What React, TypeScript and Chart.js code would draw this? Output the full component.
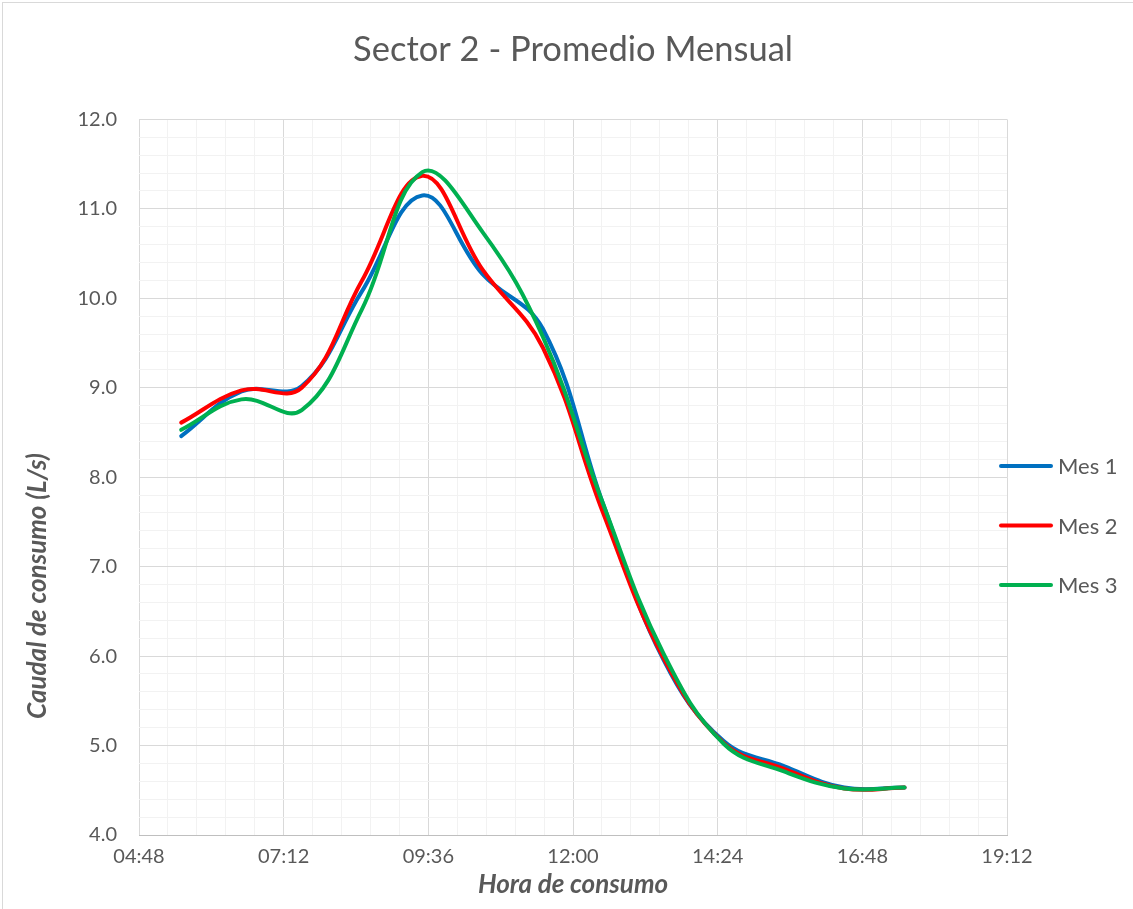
import React, { useEffect, useRef } from 'react';
import { Chart, registerables } from 'chart.js';

Chart.register(...registerables);

// Hourly sample times
const horas = ['05:30', '06:30', '07:30', '08:30', '09:30', '10:30', '11:30', '12:30', '13:30', '14:30', '15:30', '16:30', '17:30'];

// Caudal de consumo (L/s)
const mes1 = [8.46, 8.96, 9.02, 10.08, 11.15, 10.27, 9.66, 7.70, 5.96, 5.05, 4.77, 4.53, 4.53];
const mes2 = [8.61, 8.97, 9.00, 10.20, 11.37, 10.32, 9.45, 7.60, 5.98, 5.03, 4.74, 4.52, 4.53];
const mes3 = [8.53, 8.87, 8.75, 9.88, 11.41, 10.74, 9.57, 7.70, 6.03, 5.02, 4.71, 4.52, 4.53];

const seriesNames = ['Mes 1', 'Mes 2', 'Mes 3'];
const seriesColors = ['#0070C0', '#FF0000', '#00B050'];

// Axis settings (x in minutes from midnight)
const xMin = 288; // 04:48
const xMax = 1152; // 19:12
const xMinorStep = 28.8;
const xMajorStep = 144;
const yMin = 4;
const yMax = 12;
const yMinorStep = 0.2;

const TEXT = '#595959';
const MAJOR = '#d9d9d9';
const MINOR = '#f2f2f2';
const FONT = 'Lato, "Open Sans", sans-serif';

const toMinutes = (s: string) => {
  const [h, m] = s.split(':').map(Number);
  return h * 60 + m;
};
const fmtTime = (v: number) => {
  const t = Math.round(v);
  return String(Math.floor(t / 60)).padStart(2, '0') + ':' + String(t % 60).padStart(2, '0');
};
const isMajorX = (v: number) => {
  const k = (v - xMin) / xMajorStep;
  return Math.abs(k - Math.round(k)) < 1e-6;
};
const isMajorY = (v: number) => Math.abs(v - Math.round(v)) < 1e-6;

const sideLegend = {
  id: 'sideLegend',
  afterDraw(chart: any) {
    const ctx = chart.ctx;
    ctx.save();
    chart.data.datasets.forEach((ds: any, i: number) => {
      const y = 466 + i * 59.5;
      ctx.strokeStyle = ds.borderColor;
      ctx.lineWidth = 4;
      ctx.lineCap = 'round';
      ctx.beginPath();
      ctx.moveTo(1001, y);
      ctx.lineTo(1051, y);
      ctx.stroke();
      ctx.fillStyle = TEXT;
      ctx.font = `22px ${FONT}`;
      ctx.textAlign = 'left';
      ctx.textBaseline = 'middle';
      ctx.fillText(ds.label, 1058, y + 1);
    });
    ctx.restore();
  },
};

const yTitle = {
  id: 'yTitle',
  afterDraw(chart: any) {
    const ctx = chart.ctx;
    ctx.save();
    ctx.translate(38, 586);
    ctx.rotate(-Math.PI / 2);
    ctx.fillStyle = TEXT;
    ctx.font = `italic bold 26px ${FONT}`;
    ctx.textAlign = 'center';
    ctx.textBaseline = 'middle';
    ctx.fillText('Caudal de consumo (L/s)', 0, 0);
    ctx.restore();
  },
};

export default function App() {
  const ref = useRef<HTMLCanvasElement | null>(null);

  useEffect(() => {
    let chart: Chart | null = null;
    let cancelled = false;
    const make = () => {
      if (cancelled || !ref.current) return;
      const xs = horas.map(toMinutes);
      const series = [mes1, mes2, mes3];
      chart = new Chart(ref.current, {
        type: 'line',
        data: {
          datasets: series.map((vals, i) => ({
            label: seriesNames[i],
            data: vals.map((y, j) => ({ x: xs[j], y })),
            borderColor: seriesColors[i],
            backgroundColor: seriesColors[i],
            borderWidth: 4,
            borderCapStyle: 'round',
            borderJoinStyle: 'round',
            pointRadius: 0,
            tension: 0.4,
            fill: false,
            order: 2 - i,
          })),
        },
        options: {
          responsive: false,
          animation: false,
          devicePixelRatio: 1,
          layout: { padding: { left: 0, right: 126, top: 0, bottom: 0 } },
          plugins: {
            legend: { display: false },
            tooltip: { enabled: false },
            title: {
              display: true,
              text: 'Sector 2 - Promedio Mensual',
              color: TEXT,
              fullSize: false,
              font: { family: FONT, size: 34.5, weight: 'normal' },
              padding: { top: 29, bottom: 49 },
            },
          },
          scales: {
            x: {
              type: 'linear',
              min: xMin,
              max: xMax,
              ticks: {
                stepSize: xMinorStep,
                autoSkip: false,
                maxRotation: 0,
                minRotation: 0,
                padding: 10,
                color: TEXT,
                font: { family: FONT, size: 20 },
                callback: (v: any) => (isMajorX(Number(v)) ? fmtTime(Number(v)) : ''),
              },
              grid: {
                drawTicks: false,
                color: (c: any) => (c.tick && isMajorX(c.tick.value) ? MAJOR : MINOR),
              },
              border: { color: '#bfbfbf' },
              title: {
                display: true,
                text: 'Hora de consumo',
                color: TEXT,
                font: { family: FONT, size: 26, weight: 'bold', style: 'italic' },
                padding: { top: 0, bottom: 9 },
              },
              afterFit: (s: any) => {
                s.height = 74;
              },
            },
            y: {
              type: 'linear',
              min: yMin,
              max: yMax,
              ticks: {
                stepSize: yMinorStep,
                autoSkip: false,
                padding: 22,
                color: TEXT,
                font: { family: FONT, size: 20 },
                callback: (v: any) => (isMajorY(Number(v)) ? Number(v).toFixed(1) : ''),
              },
              grid: {
                drawTicks: false,
                color: (c: any) => (c.tick && isMajorY(c.tick.value) ? MAJOR : MINOR),
              },
              border: { display: false },
              afterFit: (s: any) => {
                s.width = 139;
              },
            },
          },
        } as any,
        plugins: [sideLegend, yTitle],
      });
    };
    const fontsReady = (document as any).fonts
      ? Promise.all([
          (document as any).fonts.load(`20px Lato`),
          (document as any).fonts.load(`italic bold 26px Lato`),
        ]).catch(() => null)
      : Promise.resolve(null);
    fontsReady.then(make);
    return () => {
      cancelled = true;
      if (chart) chart.destroy();
    };
  }, []);

  return (
    <div
      style={{
        position: 'fixed',
        left: 0,
        top: 0,
        width: 1133,
        height: 909,
        overflow: 'hidden',
        background: '#ffffff',
      }}
    >
      <div
        style={{
          position: 'absolute',
          left: 2,
          top: 2,
          width: 1200,
          height: 1000,
          border: '1px solid #d9d9d9',
          boxSizing: 'border-box',
        }}
      />
      <canvas ref={ref} width={1133} height={909} style={{ position: 'absolute', left: 0, top: 0 }} />
    </div>
  );
}
